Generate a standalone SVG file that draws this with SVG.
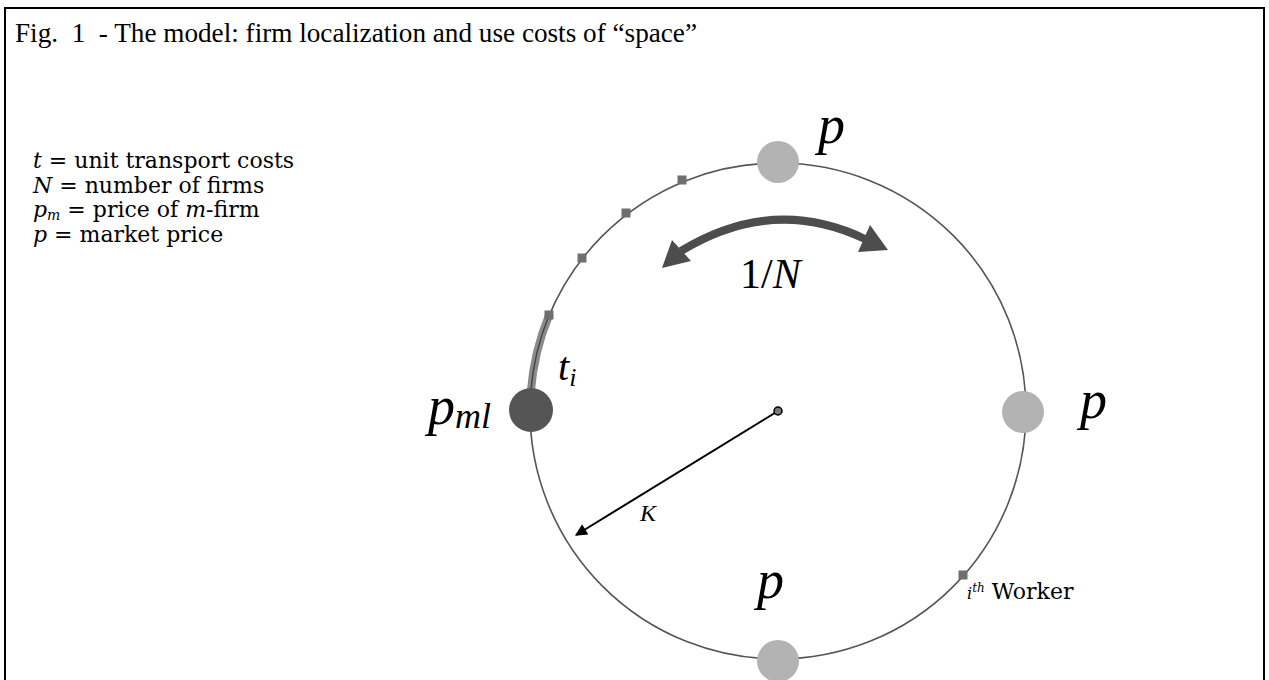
<svg xmlns="http://www.w3.org/2000/svg" width="1269" height="680" viewBox="0 0 1269 680">
<style>
.title{font-family:"Liberation Serif",serif;font-size:26.5px;fill:#000;white-space:pre}
.leg{font-family:"DejaVu Serif","Liberation Serif",serif;font-size:22px;fill:#000}
.it{font-style:italic}
.math{font-family:"Liberation Serif",serif;font-style:italic;fill:#000}
.ring{fill:none;stroke:#555;stroke-width:1.6}
.firm{fill:#b3b3b3}
.sq{fill:#6f6f6f}
</style>
<defs>
<marker id="ah" viewBox="0 0 10 10" refX="9" refY="5" markerWidth="18" markerHeight="12" markerUnits="userSpaceOnUse" orient="auto">
<path d="M0,0 L10,5 L0,10 z" fill="#000"/>
</marker>
</defs>
<rect x="0" y="0" width="1269" height="680" fill="#fff"/>
<rect x="5" y="8" width="1259" height="700" fill="none" stroke="#000" stroke-width="2"/>
<text class="title" x="15" y="42" xml:space="preserve" textLength="682" lengthAdjust="spacingAndGlyphs">Fig.  1  - The model: firm localization and use costs of “space”</text>
<g id="legend">
<text class="leg" x="33" y="168"><tspan class="it">t</tspan> = unit transport costs</text>
<text class="leg" x="33" y="193"><tspan class="it">N</tspan> = number of firms</text>
<text class="leg" x="33" y="217"><tspan class="it">p</tspan><tspan class="it" font-size="14" dy="3">m</tspan><tspan dy="-3"> = price of </tspan><tspan class="it">m</tspan>-firm</text>
<text class="leg" x="33" y="242"><tspan class="it">p</tspan> = market price</text>
</g>
<g id="ring">
<circle class="ring" cx="778" cy="411" r="248"/>
<path d="M549,315.4 A248,248 0 0 0 530.9,391" fill="none" stroke="#8a8a8a" stroke-width="8"/>
<path d="M549,315.4 A248,248 0 0 0 530.9,391" fill="none" stroke="#444" stroke-width="1.4"/>
</g>
<g id="workers">
<rect class="sq" x="677.5" y="175.5" width="9" height="9"/>
<rect class="sq" x="621.5" y="208.5" width="9" height="9"/>
<rect class="sq" x="577.5" y="253.5" width="9" height="9"/>
<rect class="sq" x="544.5" y="310.5" width="9" height="9"/>
<rect class="sq" x="958.5" y="570.5" width="9" height="9"/>
</g>
<g id="connectors">
<path d="M681,251 Q773,195 865,239" fill="none" stroke="#4d4d4d" stroke-width="8"/>
<polygon points="662,268 672,240 691,261" fill="#4d4d4d"/>
<polygon points="888,250 870,225 858,252" fill="#4d4d4d"/>
<line x1="778" y1="411" x2="576" y2="535" stroke="#000" stroke-width="2" marker-end="url(#ah)"/>
</g>
<g id="center"><circle cx="778" cy="411" r="4" fill="#777" stroke="#000" stroke-width="1.5"/></g>
<g id="node-top"><circle class="firm" cx="778" cy="162" r="21"/><text class="math" x="818" y="143" font-size="54">p</text></g>
<g id="node-right"><circle class="firm" cx="1023" cy="412" r="21"/><text class="math" x="1080" y="418" font-size="54">p</text></g>
<g id="node-bottom"><circle class="firm" cx="778" cy="661" r="21"/><text class="math" x="757" y="598" font-size="54">p</text></g>
<g id="node-left"><circle cx="531" cy="410" r="22" fill="#555"/><text class="math" x="428" y="424" font-size="54">p<tspan font-size="36" dy="4">ml</tspan></text></g>
<g id="label-ti"><text class="math" x="558" y="380" font-size="40">t<tspan font-size="26" dy="6">i</tspan></text></g>
<g id="label-N"><text x="740" y="288" font-family="Liberation Serif, serif" font-size="42">1/<tspan font-style="italic">N</tspan></text></g>
<g id="label-K"><text class="math" x="640" y="521" font-size="24">K</text></g>
<g id="label-worker"><text class="leg" x="967" y="599"><tspan class="it" font-size="16">i</tspan><tspan class="it" font-size="12" dy="-7">th</tspan><tspan dy="7"> Worker</tspan></text></g>
</svg>
